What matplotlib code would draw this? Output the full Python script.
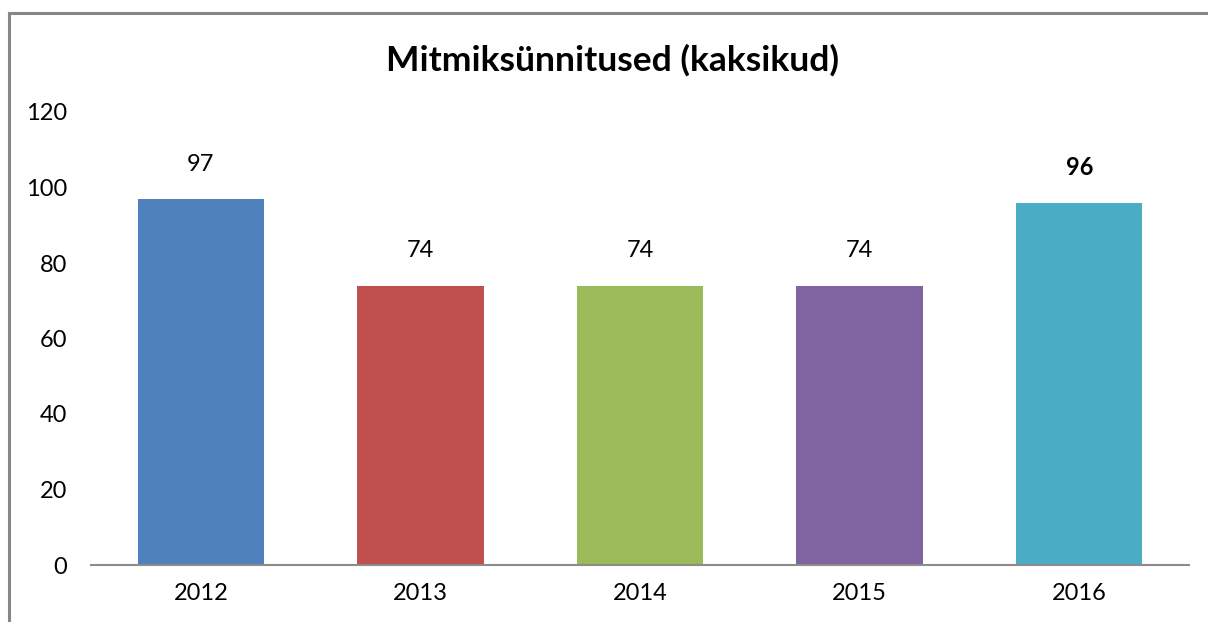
import matplotlib.pyplot as plt
from matplotlib.lines import Line2D

years = ["2012", "2013", "2014", "2015", "2016"]
values = [97, 74, 74, 74, 96]
colors = ["#4F81BD", "#C0504D", "#9BBB59", "#8064A2", "#4BACC6"]
bold_labels = [False, False, False, False, True]

plt.rcParams["font.family"] = ["Lato", "DejaVu Sans"]

fig = plt.figure(figsize=(12.08, 6.22), dpi=100)
ax = fig.add_axes([91 / 1208, 1 - 565 / 622, 1098 / 1208, (565 - 112) / 622])

x = range(len(years))
ax.bar(x, values, width=0.575, color=colors)
for i, v in enumerate(values):
    ax.annotate(str(v), (i, v), xytext=(0, 25), textcoords="offset points",
                ha="center", va="center", fontsize=17,
                fontweight="bold" if bold_labels[i] else "normal")

ax.set_xlim(-0.5, len(years) - 0.5)
ax.set_ylim(0, 120)
ax.set_yticks(range(0, 121, 20))
ax.set_xticks(list(x))
ax.set_xticklabels(years)
ax.tick_params(axis="both", length=0, labelsize=17)
ax.tick_params(axis="y", pad=17)
ax.tick_params(axis="x", pad=13)
for side in ["top", "right", "left"]:
    ax.spines[side].set_visible(False)
ax.spines["bottom"].set_color("#8c8c8c")
ax.spines["bottom"].set_linewidth(1.5)

fig.text(612 / 1208, 1 - 60 / 622, "Mitmiksünnitused (kaksikud)",
         ha="center", va="center", fontsize=25.5, fontweight="bold")

# chart frame (only left and top edges are visible in the crop)
fig.add_artist(Line2D([8.5 / 1208, 8.5 / 1208], [0, 1 - 12.5 / 622],
                      color="#878787", linewidth=2.2, transform=fig.transFigure))
fig.add_artist(Line2D([8.5 / 1208, 1], [1 - 12.5 / 622, 1 - 12.5 / 622],
                      color="#878787", linewidth=2.2, transform=fig.transFigure))

fig.savefig("out.png", dpi=100)
